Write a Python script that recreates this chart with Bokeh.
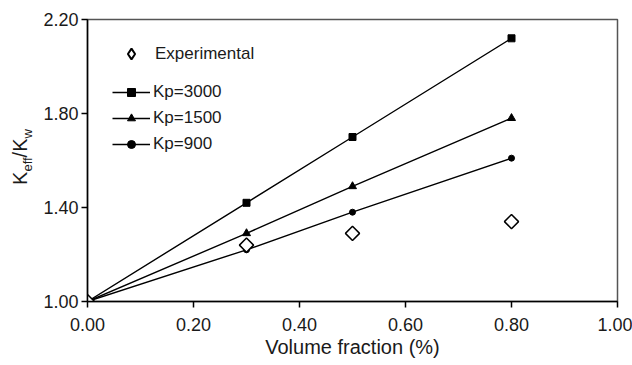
import numpy as np
from bokeh.plotting import figure
from bokeh.models import Legend, LegendItem, Div, FixedTicker, NumeralTickFormatter
from bokeh.layouts import row
from bokeh.embed import file_html
from bokeh.resources import INLINE

# ---- data ----
volume_fraction = [0.0, 0.3, 0.5, 0.8]
experimental = [1.00, 1.24, 1.29, 1.34]
kp3000 = [1.00, 1.42, 1.70, 2.12]
kp1500 = [1.00, 1.29, 1.49, 1.78]
kp900 = [1.00, 1.22, 1.38, 1.61]
x_ticks = [0.0, 0.2, 0.4, 0.6, 0.8, 1.0]
y_ticks = [1.0, 1.4, 1.8, 2.2]

FONT = "Liberation Sans"
TXT = "#1a1a1a"

p = figure(width=592, height=365, x_range=(0, 1), y_range=(1.0, 2.2),
           output_backend="svg", toolbar_location=None,
           min_border_left=46, min_border_right=15, min_border_top=19, min_border_bottom=64)
p.grid.visible = False
p.outline_line_color = "#555555"
p.outline_line_width = 1.5
p.background_fill_color = "white"
p.border_fill_color = "white"

for ax in (p.xaxis[0], p.yaxis[0]):
    ax.axis_line_color = "black"
    ax.axis_line_width = 1.5
    ax.major_tick_line_color = "black"
    ax.major_tick_line_width = 1.5
    ax.major_tick_out = 6
    ax.major_tick_in = 0
    ax.minor_tick_line_color = None
    ax.major_label_text_font = FONT
    ax.major_label_text_font_size = "18px"
    ax.major_label_text_color = TXT
    ax.formatter = NumeralTickFormatter(format="0.00")

p.xaxis[0].ticker = FixedTicker(ticks=x_ticks)
p.yaxis[0].ticker = FixedTicker(ticks=y_ticks)
p.xaxis[0].major_label_standoff = 10
p.yaxis[0].major_label_standoff = 3

p.xaxis[0].axis_label = "Volume fraction (%)"
p.xaxis[0].axis_label_text_font = FONT
p.xaxis[0].axis_label_text_font_size = "20px"
p.xaxis[0].axis_label_text_font_style = "normal"
p.xaxis[0].axis_label_text_color = TXT
p.xaxis[0].axis_label_standoff = 2

# ---- series ----
l3 = p.line(volume_fraction, kp3000, line_color="black", line_width=1.4)
s3 = p.scatter(volume_fraction, kp3000, marker="square", size=7, color="black")
l15 = p.line(volume_fraction, kp1500, line_color="black", line_width=1.4)
s15 = p.scatter(volume_fraction, kp1500, marker="triangle", size=8, color="black")
l9 = p.line(volume_fraction, kp900, line_color="black", line_width=1.4)
s9 = p.scatter(volume_fraction, kp900, marker="circle", size=6, color="black")
ex = p.scatter(volume_fraction, experimental, marker="square", angle=np.pi / 4, size=10,
               fill_color="white", line_color="black", line_width=1.5)
# legend key for the experimental symbol (legend ignores marker angle); its point lies off-range
ex_key = p.scatter([-5], [-5], marker="diamond", size=12,
                   fill_color="white", line_color="black", line_width=2)

def style_legend(lg):
    lg.border_line_color = None
    lg.background_fill_alpha = 0
    lg.padding = 0
    lg.margin = 0
    lg.spacing = 6
    lg.glyph_width = 38
    lg.glyph_height = 20
    lg.label_height = 20
    lg.label_standoff = 3
    lg.label_text_font = FONT
    lg.label_text_font_size = "17px"
    lg.label_text_color = TXT

leg1 = Legend(items=[LegendItem(label="Experimental", renderers=[ex_key])], location=(25, 234))
style_legend(leg1)
leg1.glyph_height = 27
leg1.label_height = 27
leg1.label_standoff = 5
leg2 = Legend(items=[
    LegendItem(label="Kp=3000", renderers=[l3, s3]),
    LegendItem(label="Kp=1500", renderers=[l15, s15]),
    LegendItem(label="Kp=900", renderers=[l9, s9]),
], location=(25, 147))
style_legend(leg2)
p.add_layout(leg1, "center")
p.add_layout(leg2, "center")

# ---- y axis label with subscripts (HTML, rotated) ----
ylabel_html = (
    '<div style="width:120px;height:24px;text-align:center;white-space:nowrap;'
    'transform-origin:0 0;transform:translate(8px,217px) rotate(-90deg);'
    f"font-family:'{FONT}';font-size:20px;line-height:24px;color:{TXT};\">"
    'K<sub style="font-size:13px;line-height:0">eff</sub>/K'
    '<sub style="font-size:13px;line-height:0">w</sub></div>'
)
ylab = Div(text=ylabel_html, width=40, height=365, margin=0)

layout = row(ylab, p, spacing=0)
open("out.html", "w").write(file_html(layout, INLINE))
